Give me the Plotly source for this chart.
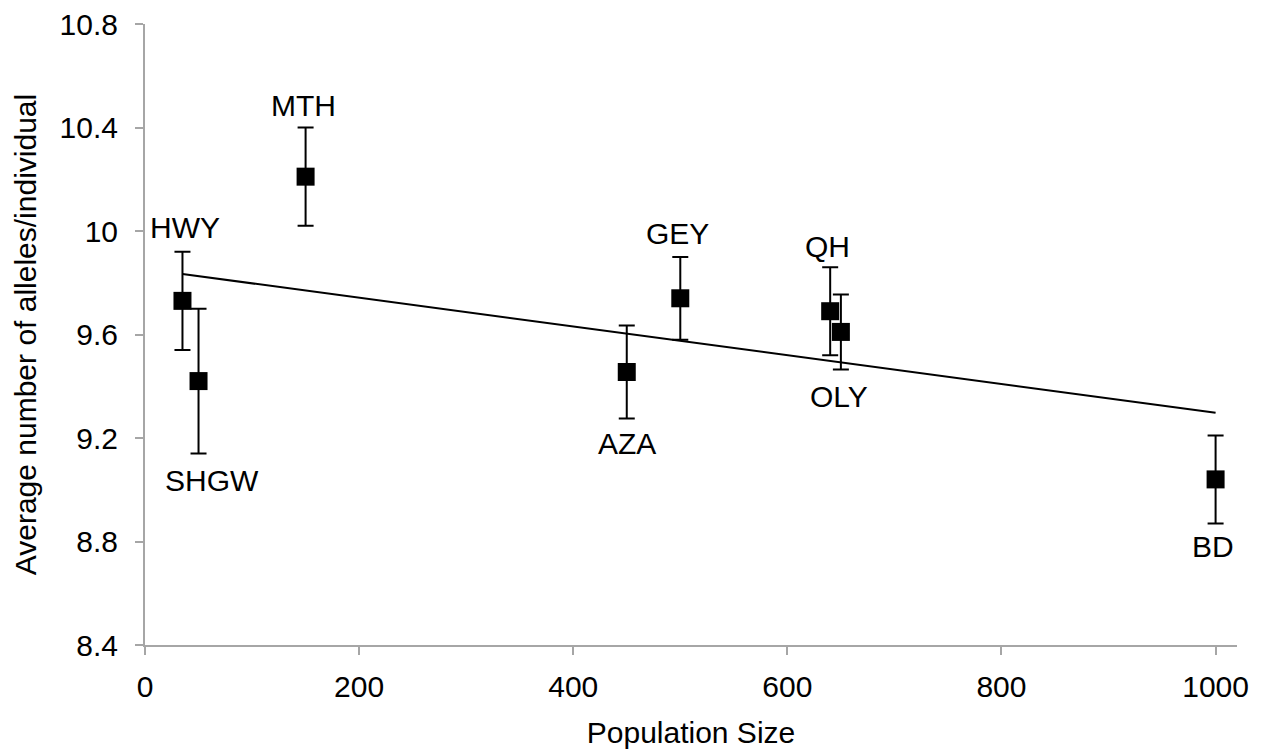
import numpy as np
import plotly.graph_objects as go

# ---- data ----
sites = ["HWY", "SHGW", "MTH", "AZA", "GEY", "QH", "OLY", "BD"]
pop_size = [35, 50, 150, 450, 500, 640, 650, 1000]
avg_alleles = [9.73, 9.42, 10.21, 9.455, 9.74, 9.69, 9.61, 9.04]
err = [0.19, 0.28, 0.19, 0.18, 0.16, 0.17, 0.145, 0.17]

x_ticks = [0, 200, 400, 600, 800, 1000]
y_ticks = [8.4, 8.8, 9.2, 9.6, 10.0, 10.4, 10.8]
y_tick_text = ["8.4", "8.8", "9.2", "9.6", "10", "10.4", "10.8"]

# ---- styling: label pixel offsets (xshift, yshift) ----
label_shift = {
    "HWY": (3, 73), "SHGW": (13, -99), "MTH": (-2, 71), "AZA": (0, -71),
    "GEY": (-3, 65), "QH": (-3, 65), "OLY": (-2, -65), "BD": (-3, -67),
}

FONT = "Liberation Sans, Arial, sans-serif"
AXIS_COLOR = "#a6a6a6"

fig = go.Figure()

# linear trendline (OLS, like Excel's)
slope, intercept = np.polyfit(pop_size, avg_alleles, 1)
tx = np.array([min(pop_size), max(pop_size)], dtype=float)
fig.add_trace(go.Scatter(
    x=tx, y=slope * tx + intercept, mode="lines",
    line=dict(color="black", width=2), hoverinfo="skip", showlegend=False,
))

fig.add_trace(go.Scatter(
    x=pop_size, y=avg_alleles, mode="markers",
    marker=dict(symbol="square", size=18, color="black"),
    error_y=dict(type="data", array=err, visible=True, color="black",
                 thickness=2, width=8),
    showlegend=False,
))

for s, xv, yv in zip(sites, pop_size, avg_alleles):
    dx, dy = label_shift[s]
    fig.add_annotation(x=xv, y=yv, text=s, showarrow=False,
                       xshift=dx, yshift=dy,
                       font=dict(family=FONT, size=30, color="black"))

fig.update_layout(
    width=1267, height=750,
    margin=dict(l=137, r=38, t=16, b=113),
    paper_bgcolor="white", plot_bgcolor="white",
    font=dict(family=FONT, size=30, color="black"),
    showlegend=False,
)
fig.update_xaxes(
    range=[0, 1020], tickvals=x_ticks, ticktext=[str(v) for v in x_ticks],
    showgrid=False, zeroline=False, showline=True, linecolor=AXIS_COLOR,
    linewidth=2, ticks="outside", ticklen=8, tickwidth=2, tickcolor=AXIS_COLOR,
    tickfont=dict(size=30), ticklabelstandoff=6, automargin=False,
    ticklabeloverflow="allow",
    title=dict(text="Population Size", font=dict(size=30), standoff=20),
)
fig.update_yaxes(
    range=[8.4, 10.8], tickvals=y_ticks, ticktext=y_tick_text,
    showgrid=False, zeroline=False, showline=True, linecolor=AXIS_COLOR,
    linewidth=2, ticks="outside", ticklen=8, tickwidth=2, tickcolor=AXIS_COLOR,
    tickfont=dict(size=30), ticklabelstandoff=11, automargin=False,
    ticklabeloverflow="allow",
    title=dict(text="Average number of alleles/individual", font=dict(size=30),
               standoff=14),
)

fig.write_html("out.html")
